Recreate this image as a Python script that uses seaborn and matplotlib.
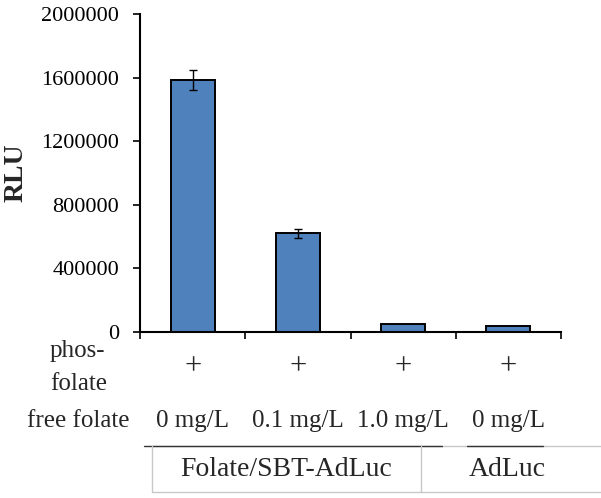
import matplotlib
matplotlib.use("Agg")
import matplotlib.pyplot as plt
import seaborn as sns
import numpy as np
import pandas as pd
from matplotlib.lines import Line2D
from matplotlib.transforms import blended_transform_factory

# ---- data ----
conditions = ["0 mg/L", "0.1 mg/L", "1.0 mg/L", "0 mg/L "]
free_folate = ["0 mg/L", "0.1 mg/L", "1.0 mg/L", "0 mg/L"]
phos_folate = ["+", "+", "+", "+"]
rlu = [1585000, 620000, 52000, 36000]
rlu_err = [60000, 30000, 0, 0]
groups = ["Folate/SBT-AdLuc", "AdLuc"]
yticks = [0, 400000, 800000, 1200000, 1600000, 2000000]

sns.set_style("white")
plt.rcParams["font.family"] = ["Liberation Serif", "DejaVu Serif"]

fig = plt.figure(figsize=(6.01, 4.98), dpi=100)
ax = fig.add_axes([140/601, 1-332/498, (561-140)/601, (332-14)/498])

df = pd.DataFrame({"cond": conditions, "rlu": rlu})
sns.barplot(data=df, x="cond", y="rlu", color="#4F81BD", edgecolor="black",
            linewidth=1.4, width=0.42, ax=ax, errorbar=None, saturation=1)
xs = np.arange(len(rlu))
err_idx = [i for i, e in enumerate(rlu_err) if e > 0]
ax.errorbar([xs[i] for i in err_idx], [rlu[i] for i in err_idx],
            yerr=[rlu_err[i] for i in err_idx], fmt="none", ecolor="black",
            elinewidth=1, capsize=3, capthick=1)

ax.set_xlim(-0.5, len(rlu) - 0.5)
ax.set_ylim(0, 2000000)
ax.set_yticks(yticks)
ax.set_yticklabels([str(v) for v in yticks], fontsize=16)
ax.set_ylabel("RLU", fontsize=20, fontweight="bold")
ax.yaxis.set_label_coords((29 - 140) / 421, 0.5)
ax.set_xlabel("")
ax.set_xticks(np.arange(-0.5, len(rlu), 1.0))
ax.set_xticklabels([])
for s in ["top", "right"]:
    ax.spines[s].set_visible(False)
for s in ["left", "bottom"]:
    ax.spines[s].set_color("black")
    ax.spines[s].set_linewidth(1.5)
ax.tick_params(axis="both", direction="out", length=5, width=1.2, colors="black",
               left=True, bottom=True)
ax.tick_params(axis="y", labelsize=16, pad=10)

# ---- table below the axis ----
trans = blended_transform_factory(ax.transData, fig.transFigure)
def fy(py):
    return 1 - py / 498
def fx(px):
    return px / 601

for i, p in enumerate(phos_folate):
    fig.text(xs[i], fy(367), p, transform=trans, ha="center", va="center", fontsize=22)
for i, f in enumerate(free_folate):
    fig.text(xs[i], fy(421), f, transform=trans, ha="center", va="center", fontsize=18)

fig.text(fx(50), fy(351), "phos-", ha="left", va="center", fontsize=18)
fig.text(fx(50), fy(384), "folate", ha="left", va="center", fontsize=18)
fig.text(fx(27), fy(421), "free folate", ha="left", va="center", fontsize=18)

# lines
def hline(x0, x1, y, color, lw):
    fig.add_artist(Line2D([fx(x0), fx(x1)], [fy(y), fy(y)], color=color, lw=lw,
                          transform=fig.transFigure))
def vline(x, y0, y1, color, lw):
    fig.add_artist(Line2D([fx(x), fx(x)], [fy(y0), fy(y1)], color=color, lw=lw,
                          transform=fig.transFigure))

hline(152, 601, 446, "#c8c8c8", 1.0)
hline(144, 442, 446, "#333333", 1.0)
hline(467, 543, 446, "#333333", 1.0)
vline(152, 446, 492, "#c8c8c8", 1.0)
vline(421, 446, 492, "#c8c8c8", 1.0)
hline(152, 601, 492, "#c8c8c8", 1.0)

fig.text(fx(286), fy(469), groups[0], ha="center", va="center", fontsize=20)
fig.text(fx(507), fy(469), groups[1], ha="center", va="center", fontsize=20)

fig.savefig("out.png", dpi=100)
